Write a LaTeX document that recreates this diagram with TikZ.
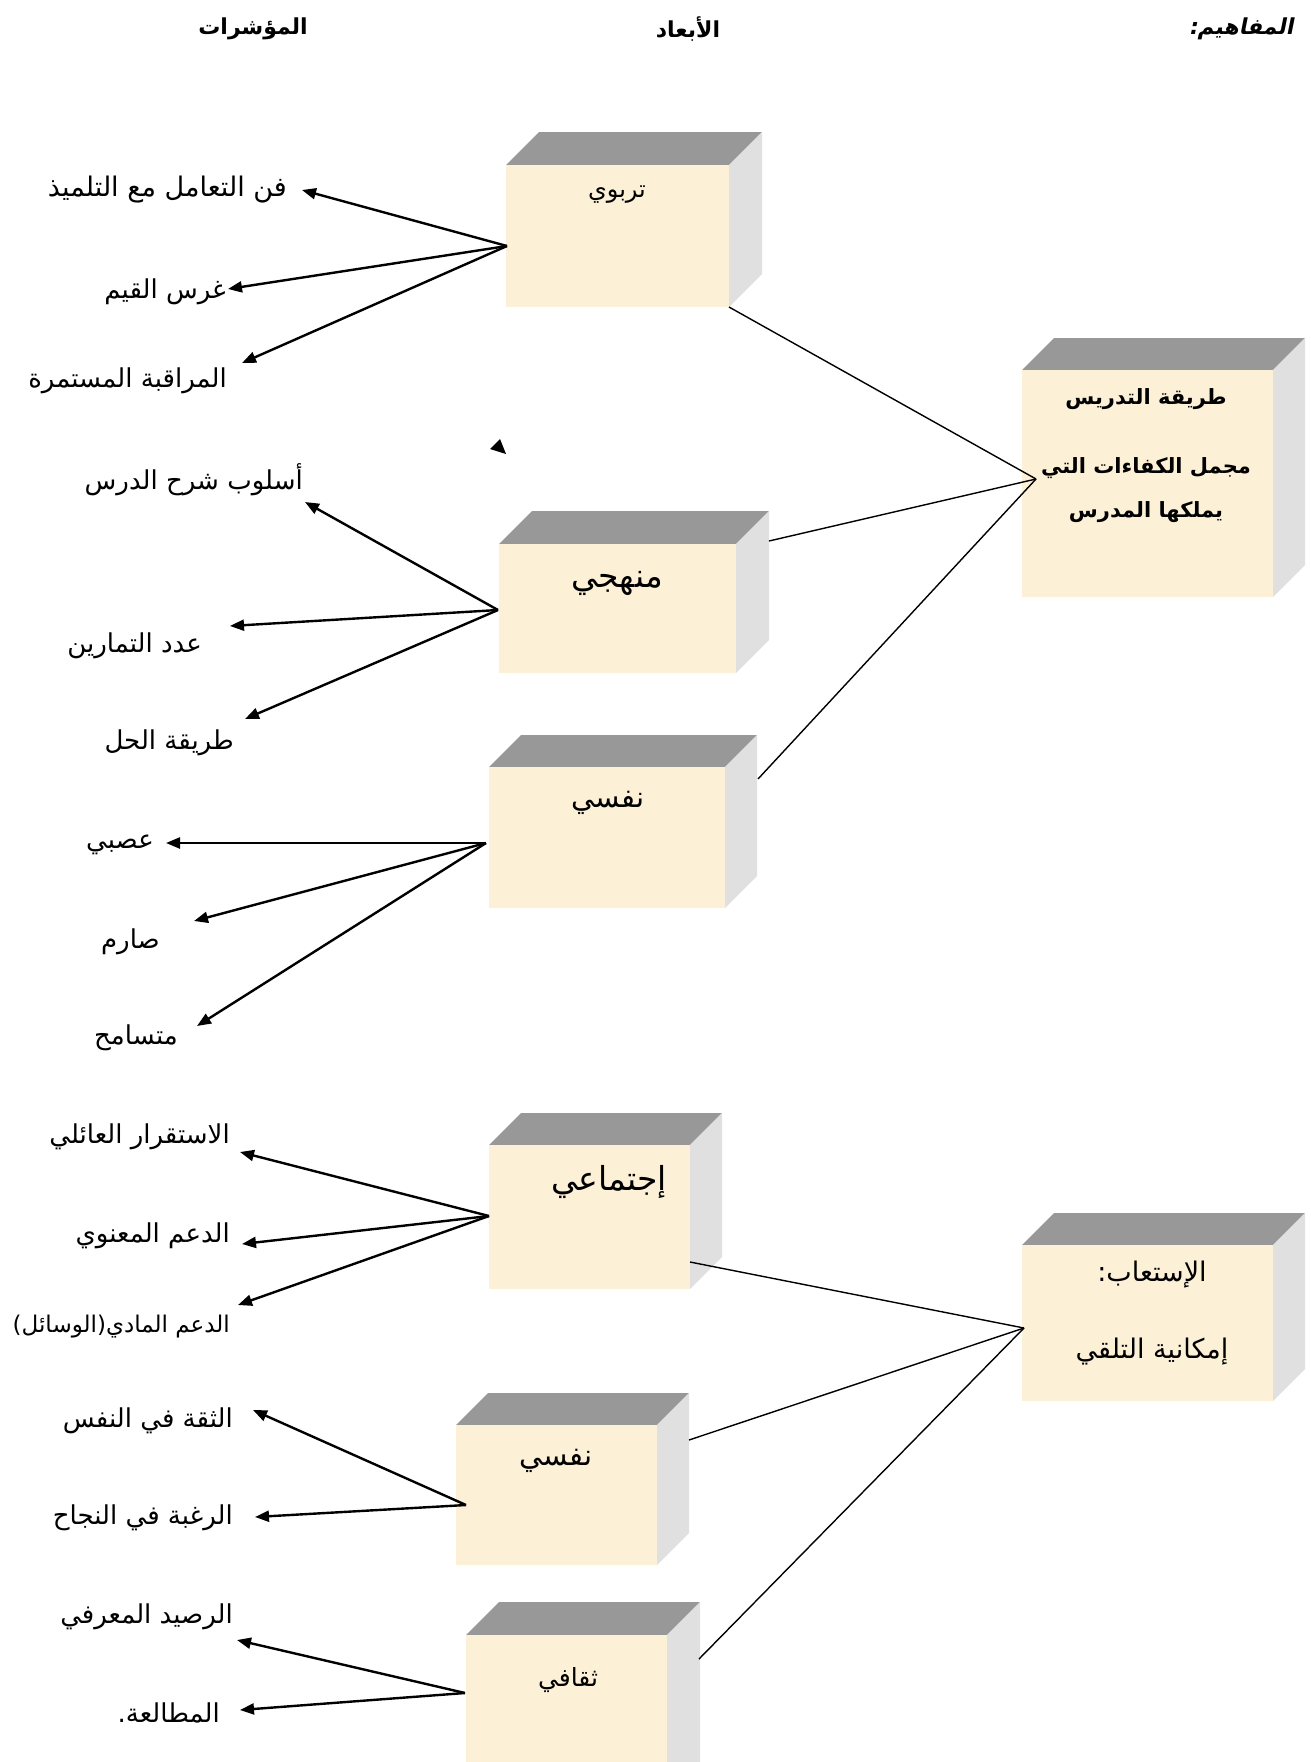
\documentclass[tikz,border=0pt]{standalone}
\usepackage{fontspec}
\usetikzlibrary{arrows.meta}
\TeXXeTstate=1
\newfontfamily\ar[Script=Arabic]{DejaVu Sans}
\newfontfamily\arbi[Script=Arabic,FakeSlant=0.2]{DejaVu Sans Bold}
\newcommand\AR[1]{{\ar\beginR #1\endR}}
\definecolor{frontc}{HTML}{FCF1D6}
\definecolor{topc}{HTML}{989898}
\definecolor{sidec}{HTML}{E0E0E0}
\tikzset{
  frontbox/.style={fill=frontc, draw=none, inner sep=0pt, outer sep=0pt, rectangle},
  lbl/.style={inner sep=0pt, anchor=east, font=\fontsize{26}{30}\selectfont},
  arr/.style={line width=2.4pt, -{Triangle[length=14pt,width=11pt]}},
  link/.style={line width=1.4pt},
  hdr/.style={inner sep=0pt, font=\fontsize{22}{26}\selectfont\bfseries},
  boxtxt/.style={inner sep=0pt}
}
% name, x1, y1, x2, y2, depth
\newcommand\cube[6]{%
  \fill[topc] (#2,#3) -- ++(#6,-#6) -- ({#4+#6},{#3-#6}) -- (#4,#3) -- cycle;
  \fill[sidec] (#4,#3) -- ({#4+#6},{#3-#6}) -- ({#4+#6},{#5-#6}) -- (#4,#5) -- cycle;
  \node[frontbox, anchor=north west, minimum width={(#4-#2)*1pt}, minimum height={(#5-#3)*1pt}] (#1) at (#2,#3) {};
}
\begin{document}
\begin{tikzpicture}[x=1pt,y=-1pt]
\useasboundingbox (0,0) rectangle (1310,1762);
\clip (0,0) rectangle (1310,1762);

% headers
\node[hdr] (h1) at (253,29) {\AR{المؤشرات}};
\node[hdr] (h2) at (688,29) {\AR{الأبعاد}};
\node[inner sep=0pt, font=\fontsize{22}{26}\selectfont] (h3) at (1241,29) {{\arbi\beginR المفاهيم:\endR}};

% cubes
\cube{c1}{506}{165}{729}{307}{33}
\cube{c2}{499}{544}{736}{673}{33}
\cube{c3}{489}{767}{725}{908}{32}
\cube{c4}{1022}{370}{1273}{597}{32}
\cube{c5}{489}{1145}{690}{1289}{32}
\cube{c6}{1022}{1245}{1273}{1401}{32}
\cube{c7}{456}{1425}{657}{1565}{32}
\cube{c8}{466}{1635}{667}{1800}{33}

% box texts
\node[boxtxt, font=\fontsize{24}{28}\selectfont] (t1) at (617,195) {\AR{تربوي}};
\node[boxtxt, font=\fontsize{33}{38}\selectfont] (t2) at (617,583) {\AR{منهجي}};
\node[boxtxt, font=\fontsize{29}{34}\selectfont] (t3) at (608,803) {\AR{نفسي}};
\node[boxtxt, font=\fontsize{21}{25}\selectfont\bfseries] (t4a) at (1146,399) {\AR{طريقة التدريس}};
\node[boxtxt, font=\fontsize{21}{25}\selectfont\bfseries] (t4b) at (1146,468) {\AR{مجمل الكفاءات التي}};
\node[boxtxt, font=\fontsize{21}{25}\selectfont\bfseries] (t4c) at (1146,512) {\AR{يملكها المدرس}};
\node[boxtxt, font=\fontsize{33}{38}\selectfont] (t5) at (609,1182) {\AR{إجتماعي}};
\node[boxtxt, font=\fontsize{27}{31}\selectfont] (t6a) at (1152,1275) {\AR{الإستعاب:}};
\node[boxtxt, font=\fontsize{27}{31}\selectfont] (t6b) at (1152,1352) {\AR{إمكانية التلقي}};
\node[boxtxt, font=\fontsize{29}{34}\selectfont] (t7) at (556,1461) {\AR{نفسي}};
\node[boxtxt, font=\fontsize{25}{30}\selectfont] (t8) at (568,1680) {\AR{ثقافي}};

% labels
\node[lbl, font=\fontsize{27}{31}\selectfont] (l1) at (287,190) {\AR{فن التعامل مع التلميذ}};
\node[lbl] (l2) at (226,292) {\AR{غرس القيم}};
\node[lbl] (l3) at (227,381) {\AR{المراقبة المستمرة}};
\node[lbl] (l4) at (303,480) {\AR{أسلوب شرح الدرس}};
\node[lbl] (l5) at (202,646) {\AR{عدد التمارين}};
\node[lbl] (l6) at (234,743) {\AR{طريقة الحل}};
\node[lbl] (l7) at (154,845) {\AR{عصبي}};
\node[lbl] (l8) at (160,942) {\AR{صارم}};
\node[lbl] (l9) at (178,1038) {\AR{متسامح}};
\node[lbl] (l10) at (230,1137) {\AR{الاستقرار العائلي}};
\node[lbl] (l11) at (230,1236) {\AR{الدعم المعنوي}};
\node[lbl, font=\fontsize{23}{27}\selectfont] (l12) at (230,1327) {\AR{الدعم المادي(الوسائل)}};
\node[lbl] (l13) at (233,1421) {\AR{الثقة في النفس}};
\node[lbl] (l14) at (233,1518) {\AR{الرغبة في النجاح}};
\node[lbl] (l15) at (233,1617) {\AR{الرصيد المعرفي}};
\node[lbl] (l16) at (220,1713) {\AR{المطالعة.}};

% sources and tips
\coordinate (s1) at (507,246);
\coordinate (s2) at (498,610);
\coordinate (s3) at (486,843);
\coordinate (s4) at (489,1216);
\coordinate (s5) at (466,1505);
\coordinate (s6) at (465,1693);
\coordinate (p1) at (302,190);
\coordinate (p2) at (228,289);
\coordinate (p3) at (242,363);
\coordinate (p4) at (305,502);
\coordinate (p5) at (230,626);
\coordinate (p6) at (245,719);
\coordinate (p7) at (166,843);
\coordinate (p8) at (194,921);
\coordinate (p9) at (197,1026);
\coordinate (p10) at (240,1152);
\coordinate (p11) at (242,1244);
\coordinate (p12) at (238,1305);
\coordinate (p13) at (253,1410);
\coordinate (p14) at (255,1517);
\coordinate (p15) at (237,1640);
\coordinate (p16) at (240,1710);

\draw[arr] (s1) -- (p1);
\draw[arr] (s1) -- (p2);
\draw[arr] (s1) -- (p3);
\draw[arr] (s2) -- (p4);
\draw[arr] (s2) -- (p5);
\draw[arr] (s2) -- (p6);
\draw[arr] (s3) -- (p7);
\draw[arr] (s3) -- (p8);
\draw[arr] (s3) -- (p9);
\draw[arr] (s4) -- (p10);
\draw[arr] (s4) -- (p11);
\draw[arr] (s4) -- (p12);
\draw[arr] (s5) -- (p13);
\draw[arr] (s5) -- (p14);
\draw[arr] (s6) -- (p15);
\draw[arr] (s6) -- (p16);

% stray arrowhead
\fill (490,449) -- (500,439) -- (506,454) -- cycle;

% links to concepts
\coordinate (r1) at (1036,479);
\coordinate (r2) at (1024,1328);
\draw[link] (c1.south east) -- (r1);
\draw[link] (769,541) -- (r1);
\draw[link] (758,779) -- (r1);
\draw[link] (690,1262) -- (r2);
\draw[link] (689,1440) -- (r2);
\draw[link] (699,1659) -- (r2);
\end{tikzpicture}
\end{document}
